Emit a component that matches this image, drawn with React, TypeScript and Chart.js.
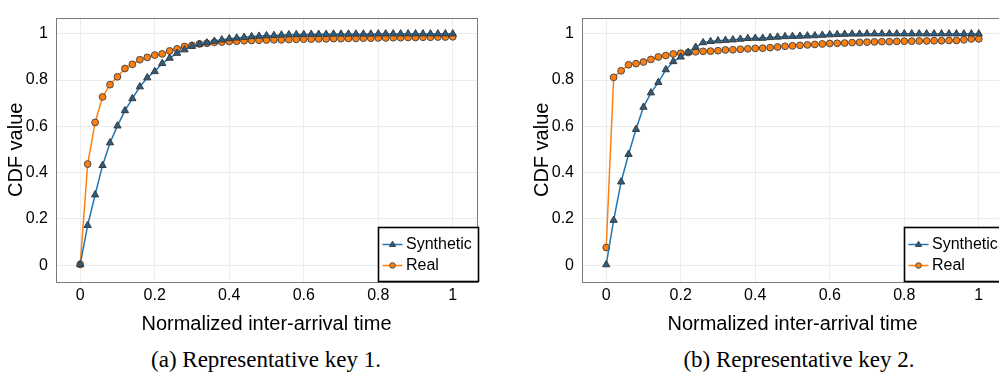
import React, { useEffect, useRef } from "react";
import { Chart, registerables } from "chart.js";

Chart.register(...registerables);

// ---------- data ----------
const xValues = [
  0, 0.02, 0.04, 0.06, 0.08, 0.1, 0.12, 0.14, 0.16, 0.18,
  0.2, 0.22, 0.24, 0.26, 0.28, 0.3, 0.32, 0.34, 0.36, 0.38,
  0.4, 0.42, 0.44, 0.46, 0.48, 0.5, 0.52, 0.54, 0.56, 0.58,
  0.6, 0.62, 0.64, 0.66, 0.68, 0.7, 0.72, 0.74, 0.76, 0.78,
  0.8, 0.82, 0.84, 0.86, 0.88, 0.9, 0.92, 0.94, 0.96, 0.98, 1,
];

const leftSynthetic = [
  0.003, 0.172, 0.304, 0.431, 0.529, 0.602, 0.668, 0.72, 0.771, 0.81,
  0.837, 0.872, 0.895, 0.916, 0.931, 0.946, 0.955, 0.961, 0.968, 0.974,
  0.979, 0.982, 0.985, 0.988, 0.99, 0.992, 0.993, 0.995, 0.996, 0.997,
  0.997, 0.998, 0.998, 0.998, 0.999, 0.999, 0.999, 0.999, 0.999, 0.999,
  1, 1, 1, 1, 1, 1, 1, 1, 1, 1, 1,
];

const leftReal = [
  0.003, 0.437, 0.617, 0.727, 0.78, 0.814, 0.85, 0.868, 0.888, 0.898,
  0.908, 0.913, 0.926, 0.935, 0.945, 0.95, 0.956, 0.959, 0.963, 0.964,
  0.967, 0.968, 0.97, 0.971, 0.972, 0.973, 0.974, 0.974, 0.975, 0.976,
  0.977, 0.977, 0.978, 0.978, 0.979, 0.979, 0.98, 0.98, 0.981, 0.981,
  0.982, 0.982, 0.983, 0.983, 0.984, 0.984, 0.985, 0.985, 0.986, 0.986, 0.987,
];

const rightSynthetic = [
  0.002, 0.194, 0.36, 0.479, 0.587, 0.683, 0.745, 0.79, 0.845, 0.88,
  0.9, 0.92, 0.942, 0.962, 0.967, 0.97, 0.972, 0.974, 0.977, 0.98,
  0.981, 0.981, 0.984, 0.986, 0.988, 0.989, 0.99, 0.991, 0.992, 0.994,
  0.996, 0.997, 0.998, 0.999, 0.999, 1, 1, 1, 1, 1,
  1, 1, 1, 1, 1, 1, 1, 1, 1, 1, 1,
];

const rightReal = [
  0.076, 0.812, 0.84, 0.866, 0.871, 0.878, 0.889, 0.9, 0.906, 0.913,
  0.916, 0.919, 0.922, 0.924, 0.925, 0.927, 0.93, 0.931, 0.933, 0.935,
  0.937, 0.938, 0.94, 0.943, 0.946, 0.948, 0.95, 0.952, 0.954, 0.956,
  0.958, 0.959, 0.96, 0.962, 0.963, 0.964, 0.965, 0.966, 0.966, 0.967,
  0.968, 0.968, 0.969, 0.969, 0.97, 0.97, 0.971, 0.971, 0.974, 0.978, 0.978,
];

const xTicks = [0, 0.2, 0.4, 0.6, 0.8, 1];
const yTicks = [0, 0.2, 0.4, 0.6, 0.8, 1];
const seriesLabels = ["Synthetic", "Real"];
const xTitle = "Normalized inter-arrival time";
const yTitle = "CDF value";
const captions = ["(a) Representative key 1.", "(b) Representative key 2."];

// ---------- styles ----------
const SANS = "'Liberation Sans', Arial, Helvetica, sans-serif";
const BLUE = "#1f77b4";
const ORANGE = "#ff7f0e";
const W = 500;
const H = 340;
const AREA_LEFT = 56;
const AREA_RIGHT = 477;
const AREA_TOP = 5;
const AREA_BOTTOM = 282;

const fmt = (v: number) => (Math.abs(v) < 1e-9 ? "0" : Math.abs(v - 1) < 1e-9 ? "1" : v.toFixed(1));

const framePlugin = {
  id: "frame",
  beforeDatasetsDraw(chart: any) {
    const { ctx, chartArea: a } = chart;
    ctx.save();
    ctx.strokeStyle = "#7a7a7a";
    ctx.lineWidth = 1;
    ctx.strokeRect(Math.round(a.left) + 0.5, Math.round(a.top) + 0.5, Math.round(a.right - a.left), Math.round(a.bottom - a.top));
    ctx.restore();
  },
};

const legendPlugin = {
  id: "boxLegend",
  afterDraw(chart: any) {
    const { ctx, chartArea: a } = chart;
    const bw = 100;
    const bh = 54;
    const bx = a.right - 98.5;
    const by = a.bottom - 54.5;
    ctx.save();
    ctx.fillStyle = "#fff";
    ctx.fillRect(bx, by, bw, bh);
    ctx.strokeStyle = "#000";
    ctx.lineWidth = 1.6;
    ctx.strokeRect(bx, by, bw, bh);
    chart.data.datasets.forEach((ds: any, i: number) => {
      const cy = by + 17 + i * 21;
      const lx0 = bx + 4;
      const lx1 = bx + 24;
      ctx.strokeStyle = ds.borderColor;
      ctx.lineWidth = 1.5;
      ctx.beginPath();
      ctx.moveTo(lx0, cy);
      ctx.lineTo(lx1, cy);
      ctx.stroke();
      const mx = (lx0 + lx1) / 2;
      ctx.fillStyle = ds.pointBackgroundColor;
      ctx.strokeStyle = ds.pointBorderColor;
      ctx.lineWidth = 1;
      ctx.beginPath();
      if (ds.pointStyle === "triangle") {
        const r = 3.2;
        ctx.moveTo(mx, cy - r);
        ctx.lineTo(mx + r * 0.95, cy + r * 0.6);
        ctx.lineTo(mx - r * 0.95, cy + r * 0.6);
        ctx.closePath();
      } else {
        ctx.arc(mx, cy, 2.8, 0, Math.PI * 2);
      }
      ctx.fill();
      ctx.stroke();
      ctx.fillStyle = "#000";
      ctx.font = `16px ${SANS}`;
      ctx.textBaseline = "middle";
      ctx.textAlign = "left";
      ctx.fillText(ds.label, bx + 27.5, cy);
    });
    ctx.restore();
  },
};

function Panel({ synthetic, real, left }: { synthetic: number[]; real: number[]; left: number }) {
  const ref = useRef<HTMLCanvasElement | null>(null);
  useEffect(() => {
    if (!ref.current) return;
    const chart = new Chart(ref.current, {
      type: "line",
      data: {
        datasets: [
          {
            label: seriesLabels[0],
            data: xValues.map((x, i) => ({ x, y: synthetic[i] })),
            borderColor: BLUE,
            borderWidth: 1.5,
            pointStyle: "triangle",
            pointRadius: 4.2,
            pointBackgroundColor: "#2f5d80",
            pointBorderColor: "#3a3a3a",
            pointBorderWidth: 1,
            tension: 0,
          },
          {
            label: seriesLabels[1],
            data: xValues.map((x, i) => ({ x, y: real[i] })),
            borderColor: ORANGE,
            borderWidth: 1.5,
            pointStyle: "circle",
            pointRadius: 3.4,
            pointBackgroundColor: ORANGE,
            pointBorderColor: "#4a4a4a",
            pointBorderWidth: 1,
            tension: 0,
          },
        ],
      } as any,
      options: {
        responsive: false,
        maintainAspectRatio: false,
        animation: false,
        devicePixelRatio: 1,
        layout: { padding: { left: 0, right: W - AREA_RIGHT, top: AREA_TOP, bottom: 0 } },
        plugins: { legend: { display: false }, tooltip: { enabled: false } },
        scales: {
          x: {
            type: "linear",
            min: -0.065,
            max: 1.065,
            afterBuildTicks: (s: any) => {
              s.ticks = xTicks.map((v) => ({ value: v }));
            },
            afterFit: (s: any) => {
              s.height = H - AREA_BOTTOM;
            },
            grid: { color: "#ececec", lineWidth: 1, drawTicks: false },
            border: { display: false },
            ticks: {
              padding: 4,
              color: "#000",
              font: { family: SANS, size: 16 },
              maxRotation: 0,
              callback: (v: any) => fmt(Number(v)),
            },
            title: {
              display: true,
              text: xTitle,
              color: "#000",
              font: { family: SANS, size: 20 },
              padding: { top: 0, bottom: 4 },
            },
          },
          y: {
            type: "linear",
            min: -0.073,
            max: 1.07,
            afterBuildTicks: (s: any) => {
              s.ticks = yTicks.map((v) => ({ value: v }));
            },
            afterFit: (s: any) => {
              s.width = AREA_LEFT;
            },
            grid: { color: "#ececec", lineWidth: 1, drawTicks: false },
            border: { display: false },
            ticks: {
              padding: 8,
              color: "#000",
              font: { family: SANS, size: 16 },
              callback: (v: any) => fmt(Number(v)),
            },
            title: {
              display: true,
              text: yTitle,
              color: "#000",
              font: { family: SANS, size: 20 },
              padding: { top: 4, bottom: 0 },
            },
          },
        },
      } as any,
      plugins: [framePlugin, legendPlugin],
    });
    return () => chart.destroy();
  }, [synthetic, real]);
  return (
    <canvas
      ref={ref}
      width={W}
      height={H}
      style={{ position: "absolute", left, top: 0, width: W, height: H }}
    />
  );
}

export default function App() {
  const captionStyle = (cx: number): React.CSSProperties => ({
    position: "absolute",
    left: cx - 200,
    width: 400,
    top: 346,
    textAlign: "center",
    fontFamily: "'Liberation Serif', 'Times New Roman', serif",
    fontSize: 23,
    lineHeight: "28px",
    color: "#000",
    whiteSpace: "nowrap",
  });
  return (
    <div
      style={{
        position: "fixed",
        left: 0,
        top: 0,
        width: 999,
        height: 380,
        overflow: "hidden",
        background: "#fff",
      }}
    >
      <Panel synthetic={leftSynthetic} real={leftReal} left={0} />
      <Panel synthetic={rightSynthetic} real={rightReal} left={526} />
      <div style={captionStyle(266)}>{captions[0]}</div>
      <div style={captionStyle(799)}>{captions[1]}</div>
    </div>
  );
}
